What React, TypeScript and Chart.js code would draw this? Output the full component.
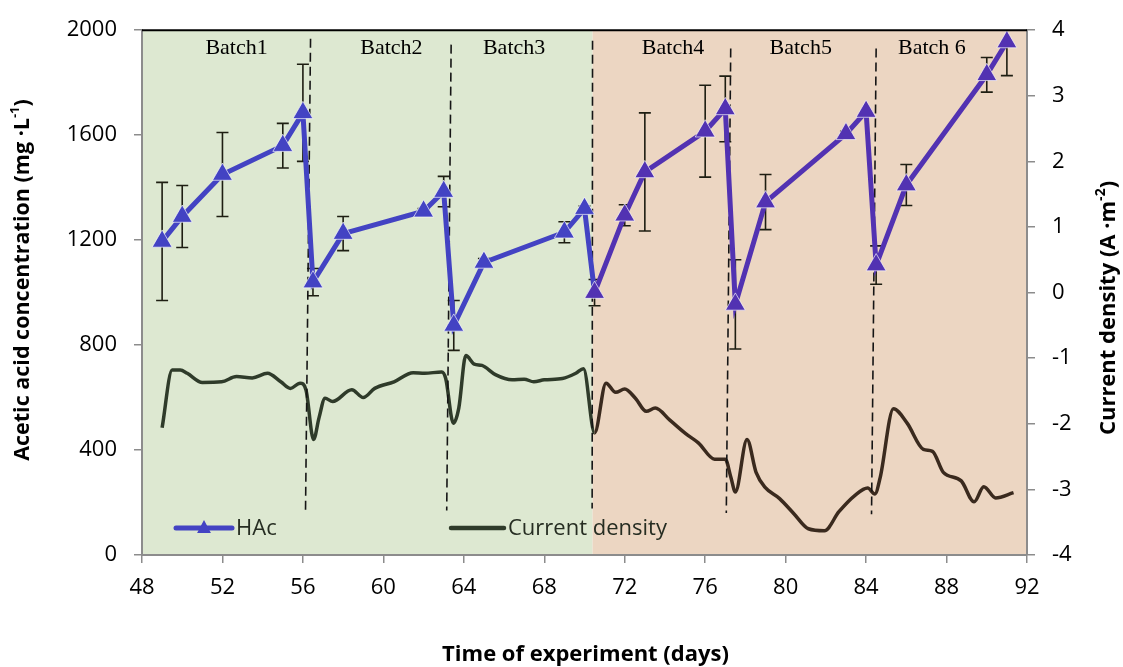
import React, { useEffect, useRef } from 'react';
import { Chart, registerables } from 'chart.js';

Chart.register(...registerables);

// ---------- data ----------
const hacDays = [49, 50, 52, 55, 56, 56.5, 58, 62, 63, 63.5, 65, 69, 70, 70.5, 72, 73, 76, 77, 77.5, 79, 83, 84, 84.5, 86, 90, 91];
const hacValues = [1195, 1290, 1450, 1560, 1685, 1040, 1225, 1310, 1385, 875, 1115, 1230, 1320, 1000, 1295, 1460, 1615, 1700, 955, 1345, 1605, 1690, 1105, 1410, 1830, 1955];
const hacErrors = [225, 118, 160, 85, 185, 52, 65, 10, 58, 95, 15, 40, 10, 50, 40, 225, 175, 125, 170, 105, 10, 0, 73, 78, 66, 128];

const cdDays = [49.0, 49.5, 49.9, 50.25, 51.0, 51.96, 52.7, 53.48, 54.24, 54.9, 55.38, 55.86, 56.15, 56.53, 56.8, 57.1, 57.48, 58.43, 59.0, 59.57, 60.53, 61.48, 62.05, 62.9, 63.1, 63.48, 63.75, 64.1, 64.52, 64.9, 65.57, 66.4, 67.0, 67.48, 68.0, 68.9, 69.57, 69.95, 70.5, 71.07, 71.55, 72.0, 72.53, 73.07, 73.52, 74.23, 75.03, 75.66, 76.47, 77.0, 77.28, 77.5, 78.08, 78.53, 78.98, 79.7, 80.41, 81.13, 81.93, 82.65, 83.45, 84.08, 84.44, 84.7, 85.36, 86.04, 86.85, 87.3, 87.84, 88.73, 89.37, 89.85, 90.44, 91.33];
const cdValues = [-2.06, -1.18, -1.18, -1.23, -1.37, -1.36, -1.28, -1.30, -1.23, -1.36, -1.46, -1.38, -1.48, -2.24, -1.91, -1.61, -1.66, -1.48, -1.60, -1.46, -1.36, -1.22, -1.23, -1.21, -1.31, -1.99, -1.76, -0.96, -1.09, -1.11, -1.25, -1.33, -1.32, -1.36, -1.33, -1.31, -1.23, -1.16, -2.14, -1.38, -1.52, -1.47, -1.61, -1.81, -1.76, -1.94, -2.15, -2.29, -2.54, -2.54, -2.82, -3.04, -2.24, -2.74, -2.97, -3.14, -3.37, -3.60, -3.63, -3.34, -3.09, -2.98, -3.07, -2.82, -1.77, -1.99, -2.39, -2.42, -2.74, -2.87, -3.19, -2.96, -3.13, -3.05];

// batch dividers (dashed), top and bottom ends
const dividerTopDays = [56.38, 63.37, 70.4, 77.27, 84.5];
const dividerBottomDays = [56.13, 63.15, 70.38, 77.05, 84.27];
const dividerTopValues = [1967, 1945, 1960, 1930, 1930];
const dividerBottomValues = [170, 170, 177, 160, 155];

const batchLabels = ['Batch1', 'Batch2', 'Batch3', 'Batch4', 'Batch5', 'Batch 6'];
const batchLabelDays = [52.7, 60.4, 66.5, 74.4, 80.75, 87.27];
const batchLabelValue = 1932;

// background regions (days)
const regionStarts = [48, 70.4];
const regionEnds = [70.4, 92];

const X_MIN = 48, X_MAX = 92, X_STEP = 4;
const Y_MIN = 0, Y_MAX = 2000, Y_STEP = 400;
const Y1_MIN = -4, Y1_MAX = 4, Y1_STEP = 1;

// ---------- styles ----------
const SPLIT = 70.3;
const REGION_COLORS = ['#dde8d1', '#ecd6c2'];
const HAC_BLUE = '#4343c3';
const HAC_PURPLE = '#5232b2';
const CD_GREEN = '#2f3b2a';
const CD_BROWN = '#3a2a1e';
const AXIS_GRAY = '#8c8c8c';
const SANS = "'Open Sans', 'Noto Sans', sans-serif";
const SERIF = "'Liberation Serif', 'DejaVu Serif', serif";

type Part = { t: string; sup?: boolean };

function drawRich(ctx: CanvasRenderingContext2D, parts: Part[], cx: number, cy: number, size: number, rot: number) {
  ctx.save();
  ctx.translate(cx, cy);
  ctx.rotate(rot);
  ctx.textBaseline = 'middle';
  ctx.textAlign = 'left';
  ctx.fillStyle = '#000';
  const fontFor = (p: Part) => `bold ${p.sup ? Math.round(size * 0.62) : size}px ${SANS}`;
  let total = 0;
  for (const p of parts) {
    ctx.font = fontFor(p);
    total += ctx.measureText(p.t).width;
  }
  let x = -total / 2;
  for (const p of parts) {
    ctx.font = fontFor(p);
    ctx.fillText(p.t, x, p.sup ? -size * 0.38 : 0);
    x += ctx.measureText(p.t).width;
  }
  ctx.restore();
}

const decorPlugin = {
  id: 'decor',
  beforeDraw(chart: any) {
    const { ctx, chartArea: a, scales } = chart;
    const x = scales.x;
    ctx.save();
    regionStarts.forEach((s, i) => {
      const x0 = x.getPixelForValue(s);
      const x1 = x.getPixelForValue(regionEnds[i]);
      ctx.fillStyle = REGION_COLORS[i];
      ctx.fillRect(x0, a.top, x1 - x0, a.bottom - a.top);
    });
    ctx.restore();
  },
  beforeDatasetsDraw(chart: any) {
    const { ctx, chartArea: a, scales } = chart;
    const x = scales.x, y = scales.y;
    ctx.save();
    ctx.strokeStyle = '#1e1e12';
    ctx.lineWidth = 1.6;
    const cap = 6;
    hacDays.forEach((d, i) => {
      const e = hacErrors[i];
      if (!e) return;
      const px = x.getPixelForValue(d);
      const top = y.getPixelForValue(hacValues[i] + e);
      const bot = y.getPixelForValue(hacValues[i] - e);
      const t = Math.max(top, a.top);
      const b = Math.min(bot, a.bottom);
      ctx.beginPath();
      ctx.moveTo(px, t);
      ctx.lineTo(px, b);
      if (top >= a.top) { ctx.moveTo(px - cap, top); ctx.lineTo(px + cap, top); }
      if (bot <= a.bottom) { ctx.moveTo(px - cap, bot); ctx.lineTo(px + cap, bot); }
      ctx.stroke();
    });
    ctx.restore();
  },
  afterDatasetsDraw(chart: any) {
    const { ctx, chartArea: a, scales } = chart;
    const x = scales.x, y = scales.y;
    ctx.save();
    // top border
    ctx.strokeStyle = '#000';
    ctx.lineWidth = 2;
    ctx.beginPath();
    ctx.moveTo(a.left, a.top);
    ctx.lineTo(a.right, a.top);
    ctx.stroke();
    // batch labels
    ctx.fillStyle = '#000';
    ctx.font = `22px ${SERIF}`;
    ctx.textAlign = 'center';
    ctx.textBaseline = 'middle';
    batchLabels.forEach((l, i) => {
      ctx.fillText(l, x.getPixelForValue(batchLabelDays[i]), y.getPixelForValue(batchLabelValue));
    });
    // legend
    const ly = a.bottom - 27;
    const l1 = a.left + 34;
    ctx.lineCap = 'round';
    ctx.strokeStyle = HAC_BLUE;
    ctx.lineWidth = 5;
    ctx.beginPath();
    ctx.moveTo(l1, ly);
    ctx.lineTo(l1 + 56, ly);
    ctx.stroke();
    ctx.fillStyle = HAC_BLUE;
    ctx.beginPath();
    const tr = 8;
    const tcx = l1 + 28;
    ctx.moveTo(tcx, ly - tr);
    ctx.lineTo(tcx + tr * 0.866, ly + tr * 0.5 + 1);
    ctx.lineTo(tcx - tr * 0.866, ly + tr * 0.5 + 1);
    ctx.closePath();
    ctx.fill();
    ctx.font = `22px ${SANS}`;
    ctx.textAlign = 'left';
    ctx.fillStyle = '#262d22';
    ctx.fillText('HAc', l1 + 60, ly + 1);
    const l2 = a.left + 309;
    ctx.strokeStyle = CD_GREEN;
    ctx.lineWidth = 4.5;
    ctx.beginPath();
    ctx.moveTo(l2, ly);
    ctx.lineTo(l2 + 53, ly);
    ctx.stroke();
    ctx.fillStyle = '#262d22';
    ctx.fillText('Current density', l2 + 57, ly + 1);
    ctx.restore();
  },
  afterDraw(chart: any) {
    const { ctx, chartArea: a } = chart;
    drawRich(ctx, [{ t: 'Time of experiment (days)' }], (a.left + a.right) / 2 + 1, 655, 22, 0);
    drawRich(ctx, [{ t: 'Acetic acid concentration (mg ·L' }, { t: '-1', sup: true }, { t: ')' }], 23, 280, 21.5, -Math.PI / 2);
    drawRich(ctx, [{ t: 'Current density (A ·m' }, { t: '-2', sup: true }, { t: ')' }], 1109, 308, 22, -Math.PI / 2);
  },
};

export default function App() {
  const ref = useRef<HTMLCanvasElement>(null);
  useEffect(() => {
    const hacColor = (c: any) => ((c.raw && c.raw.x >= SPLIT) ? HAC_PURPLE : HAC_BLUE);
    const dividerSets = dividerTopDays.map((d, i) => ({
      label: 'divider' + i,
      data: [{ x: d, y: dividerTopValues[i] }, { x: dividerBottomDays[i], y: dividerBottomValues[i] }],
      yAxisID: 'y',
      borderColor: '#151515',
      borderWidth: 1.6,
      borderDash: [9, 5],
      pointRadius: 0,
      order: 1,
    }));
    const tickFont = { family: SANS, size: 22 };
    const plain = (v: any) => String(v);
    const gridCfg = { drawOnChartArea: false, drawTicks: true, tickLength: 8, color: AXIS_GRAY, lineWidth: 1.5 };
    const borderCfg = { display: true, color: AXIS_GRAY, width: 2 };
    const chart = new Chart(ref.current as HTMLCanvasElement, {
      type: 'line',
      data: {
        datasets: [
          {
            label: 'HAc',
            data: hacDays.map((d, i) => ({ x: d, y: hacValues[i] })),
            yAxisID: 'y',
            borderColor: HAC_BLUE,
            borderWidth: 5,
            segment: { borderColor: (c: any) => (c.p0.parsed.x >= SPLIT ? HAC_PURPLE : HAC_BLUE) },
            pointStyle: 'triangle',
            pointRadius: 11.5,
            pointBackgroundColor: hacColor,
            pointBorderColor: 'rgba(255,255,255,0.65)',
            pointBorderWidth: 1,
            tension: 0,
            order: 0,
          } as any,
          {
            label: 'Current density',
            data: cdDays.map((d, i) => ({ x: d, y: cdValues[i] })),
            yAxisID: 'y1',
            borderColor: CD_GREEN,
            borderWidth: 3.5,
            segment: { borderColor: (c: any) => (c.p0.parsed.x >= SPLIT ? CD_BROWN : CD_GREEN) },
            pointRadius: 0,
            cubicInterpolationMode: 'monotone',
            order: 2,
          } as any,
          ...(dividerSets as any[]),
        ],
      },
      options: {
        animation: false,
        responsive: false,
        devicePixelRatio: 1,
        layout: { padding: { top: 24, left: 0, right: 0, bottom: 0 } },
        plugins: { legend: { display: false }, tooltip: { enabled: false } },
        events: [],
        scales: {
          x: {
            type: 'linear',
            min: X_MIN,
            max: X_MAX,
            ticks: { stepSize: X_STEP, font: tickFont, color: '#000', padding: 12, maxRotation: 0, callback: plain },
            grid: gridCfg,
            border: borderCfg,
            afterFit: (s: any) => { s.height = 112; },
          },
          y: {
            type: 'linear',
            position: 'left',
            min: Y_MIN,
            max: Y_MAX,
            ticks: { stepSize: Y_STEP, font: tickFont, color: '#000', padding: 17, callback: plain },
            grid: gridCfg,
            border: borderCfg,
            afterFit: (s: any) => { s.width = 142; },
          },
          y1: {
            type: 'linear',
            position: 'right',
            min: Y1_MIN,
            max: Y1_MAX,
            ticks: { stepSize: Y1_STEP, font: tickFont, color: '#000', padding: 17, callback: plain },
            grid: gridCfg,
            border: borderCfg,
            afterFit: (s: any) => { s.width = 96; },
          },
        },
      } as any,
      plugins: [decorPlugin],
    });
    return () => chart.destroy();
  }, []);
  return (
    <div style={{ position: 'absolute', left: 0, top: 0, width: 1123, height: 667, background: '#fff' }}>
      <canvas ref={ref} width={1123} height={667} style={{ display: 'block', width: 1123, height: 667 }} />
    </div>
  );
}
